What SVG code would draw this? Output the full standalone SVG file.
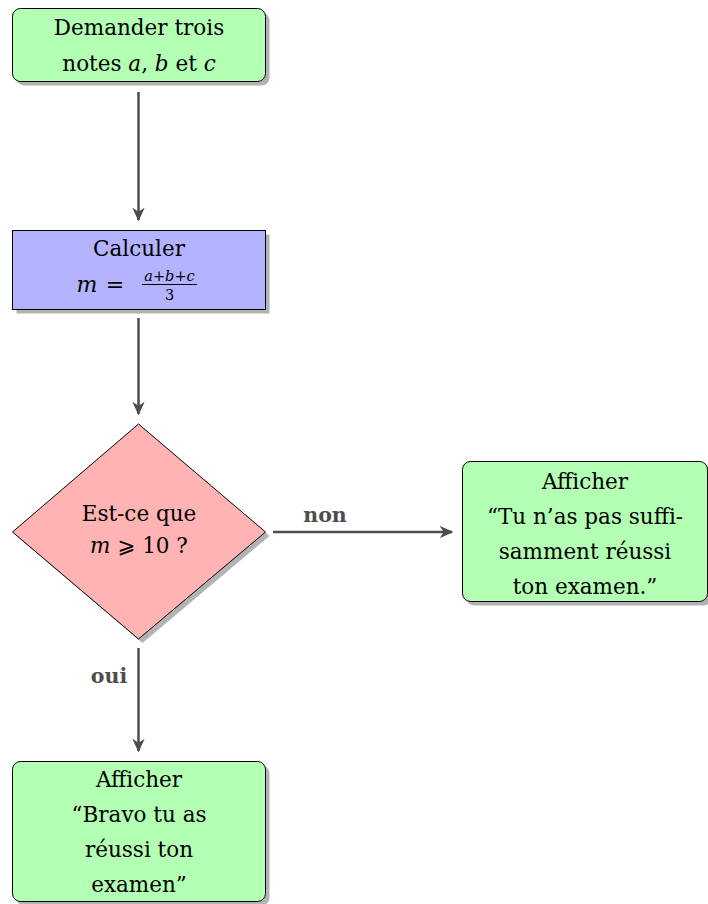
<svg xmlns="http://www.w3.org/2000/svg" width="708" height="904" viewBox="0 0 708 904">
<defs>
<style>
.t{font-family:"DejaVu Serif","Liberation Serif",serif;font-size:21.5px;fill:#000;text-anchor:middle}
.i{font-style:italic}
.sh{fill:#b3b3b3}
.g{fill:#b3ffb3;stroke:#000;stroke-width:1}
.b{fill:#b3b3ff;stroke:#000;stroke-width:1}
.r{fill:#ffb3b3;stroke:#000;stroke-width:1}
.c{stroke:#4d4d4d;stroke-width:2.5;fill:none}
.lab{font-family:"DejaVu Serif","Liberation Serif",serif;font-size:20.5px;font-weight:bold;fill:#4d4d4d;text-anchor:middle}
</style>
<marker id="ah" viewBox="0 0 10 10" refX="9" refY="5" markerWidth="5.5" markerHeight="5.5" markerUnits="strokeWidth" orient="auto">
<path d="M0,0.5 L10,5 L0,9.5 L3,5 Z" fill="#4d4d4d"/>
</marker>
</defs>
<g id="connectors">
<line class="c" x1="138.5" y1="92" x2="138.5" y2="220" marker-end="url(#ah)"/>
<line class="c" x1="138.5" y1="318" x2="138.5" y2="414" marker-end="url(#ah)"/>
<line class="c" x1="273" y1="532" x2="452" y2="532" marker-end="url(#ah)"/>
<line class="c" x1="138.5" y1="648" x2="138.5" y2="751" marker-end="url(#ah)"/>
<text class="lab" x="325" y="522">non</text>
<text class="lab" x="109" y="683">oui</text>
</g>
<g id="n1">
<rect class="sh" x="16.5" y="12.5" width="253" height="73" rx="8"/>
<rect class="g" x="12.5" y="8.5" width="253" height="73" rx="8"/>
<text class="t" x="139" y="35">Demander trois</text>
<text class="t" x="139" y="71">notes <tspan class="i">a</tspan>, <tspan class="i">b</tspan> et <tspan class="i">c</tspan></text>
</g>
<g id="n2">
<rect class="sh" x="16.5" y="234.5" width="253" height="79"/>
<rect class="b" x="12.5" y="230.5" width="253" height="79"/>
<text class="t" x="139" y="256">Calculer</text>
<text class="t i" x="87" y="292" style="font-size:22px">m</text>
<text class="t" x="115" y="292" style="font-size:22px">=</text>
<text class="t i" x="169.5" y="281" style="font-size:14.5px">a+b+c</text>
<line x1="142" y1="284.5" x2="197" y2="284.5" stroke="#000" stroke-width="1"/>
<text class="t" x="169.5" y="300" style="font-size:14.5px">3</text>
</g>
<g id="n3">
<polygon class="sh" points="142.5,428 269.5,536 142.5,643 16.5,536"/>
<polygon class="r" points="138.5,424 265.5,532 138.5,639 12.5,532"/>
<text class="t" x="139" y="521">Est-ce que</text>
<text class="t" x="139" y="553"><tspan class="i">m</tspan> <tspan style="font-family:'DejaVu Sans',sans-serif">⩾</tspan> 10 ?</text>
</g>
<g id="n4">
<rect class="sh" x="466.5" y="465.5" width="245" height="140" rx="8"/>
<rect class="g" x="462.5" y="461.5" width="245" height="140" rx="8"/>
<text class="t" x="585" y="489">Afficher</text>
<text class="t" x="585" y="524">“Tu n’as pas suffi-</text>
<text class="t" x="585" y="559">samment réussi</text>
<text class="t" x="585" y="594">ton examen.”</text>
</g>
<g id="n5">
<rect class="sh" x="16.5" y="765.5" width="253" height="140" rx="8"/>
<rect class="g" x="12.5" y="761.5" width="253" height="140" rx="8"/>
<text class="t" x="139" y="787">Afficher</text>
<text class="t" x="139" y="822">“Bravo tu as</text>
<text class="t" x="139" y="857">réussi ton</text>
<text class="t" x="139" y="892">examen”</text>
</g>
</svg>
